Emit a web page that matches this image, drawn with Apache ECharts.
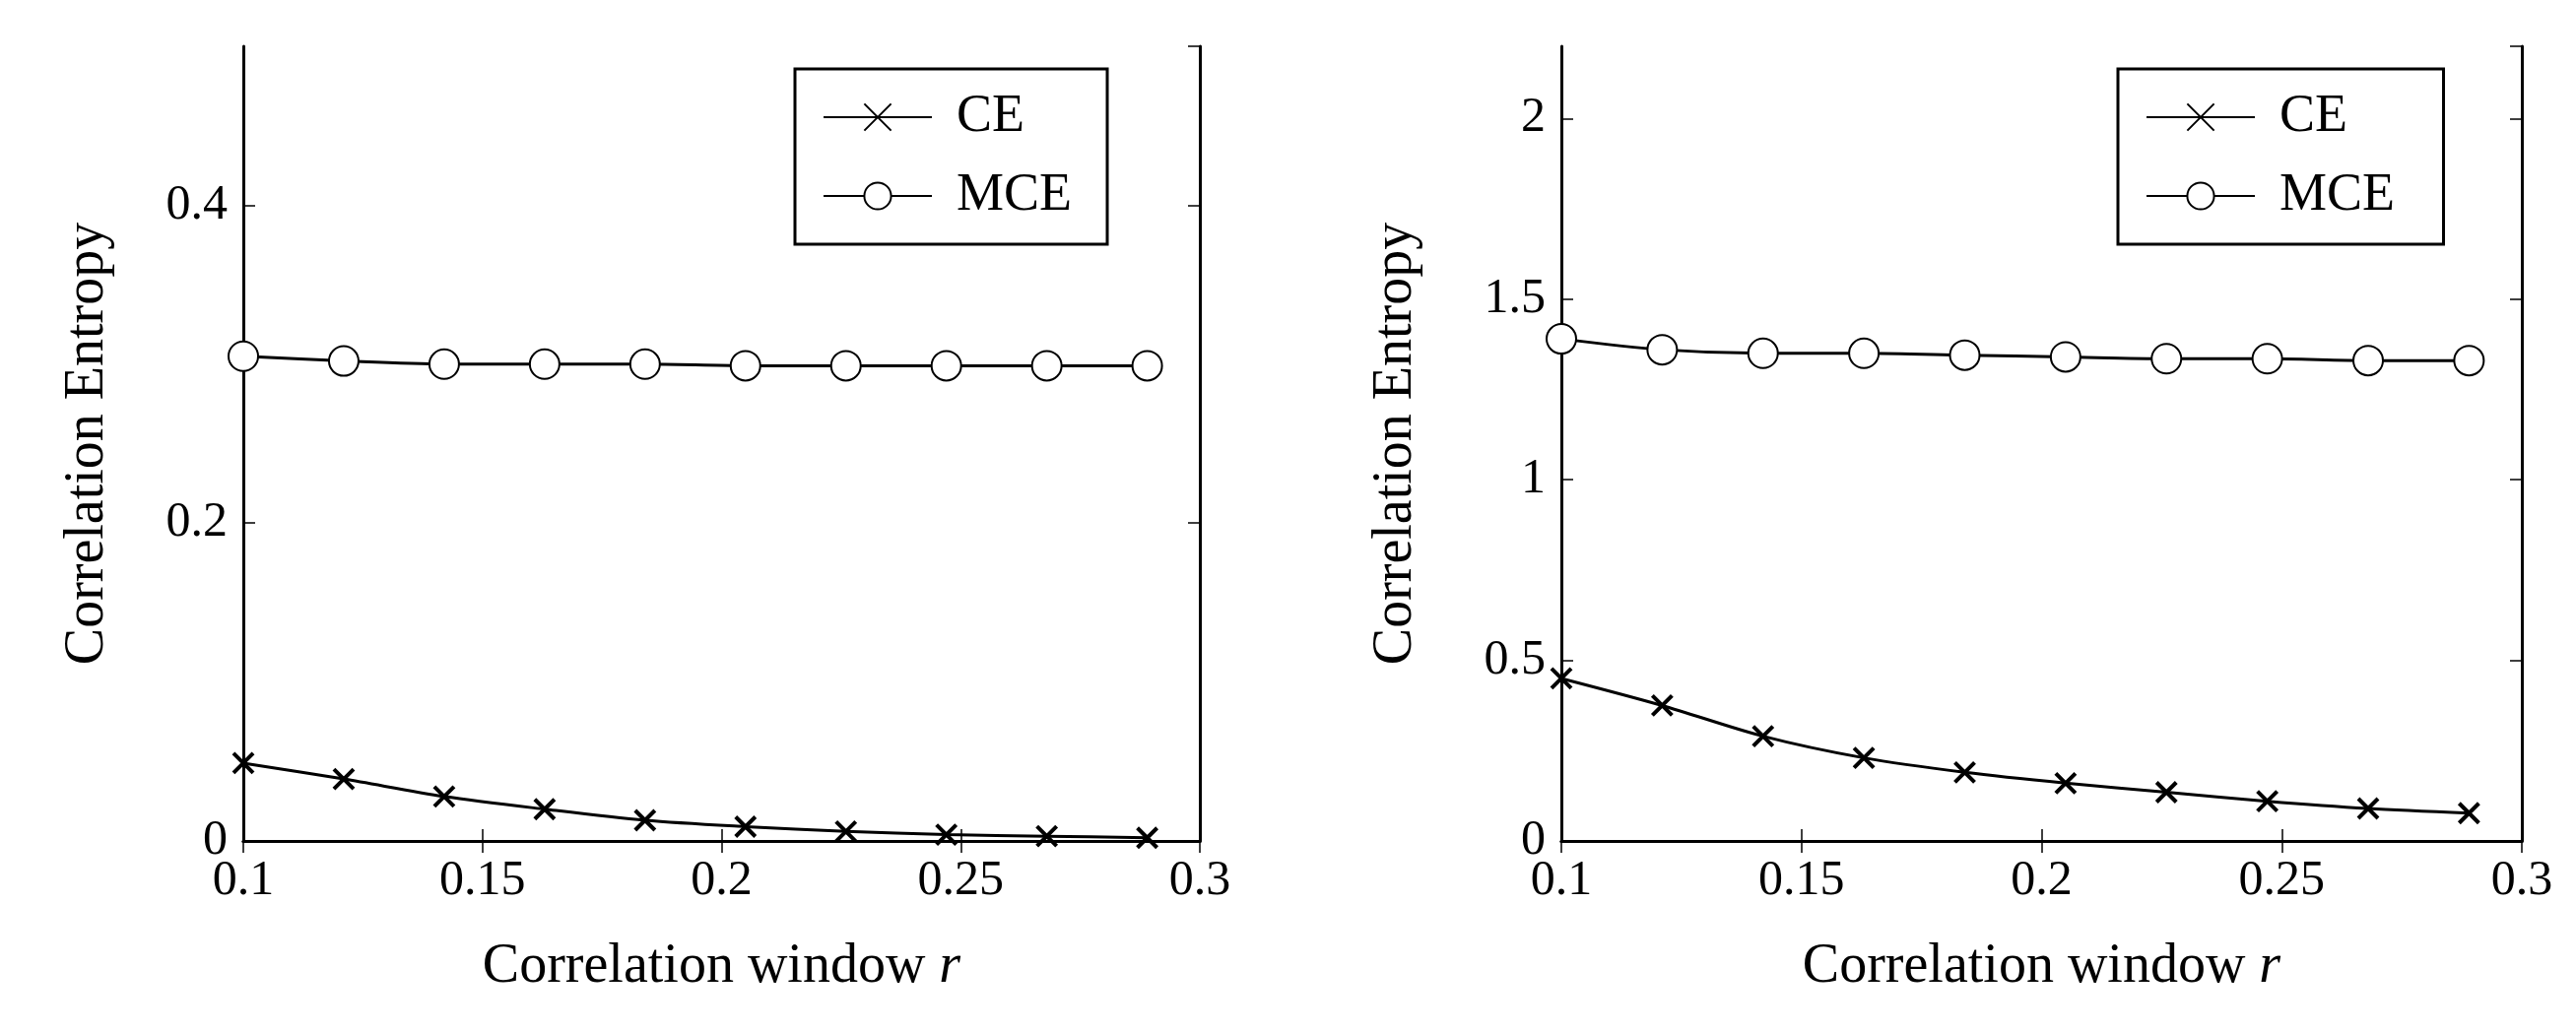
<!DOCTYPE html><html><head><meta charset="utf-8">
<script src="https://cdn.jsdelivr.net/npm/echarts@6/dist/echarts.min.js"></script>
<style>html,body{margin:0;background:#fff}#c{width:2615px;height:1048px}</style></head><body><div id="c"></div>
<script>
const xVals=[0.1,0.121,0.142,0.163,0.184,0.205,0.226,0.247,0.268,0.289];
const ceLeft=[0.049,0.039,0.028,0.020,0.013,0.009,0.006,0.004,0.003,0.002];
const mceLeft=[0.305,0.302,0.300,0.300,0.300,0.299,0.299,0.299,0.299,0.299];
const ceRight=[0.45,0.375,0.29,0.23,0.19,0.16,0.135,0.11,0.09,0.077];
const mceRight=[1.39,1.36,1.35,1.35,1.345,1.34,1.335,1.335,1.33,1.33];
const F='Liberation Serif';
const grids=[{left:247,right:2615-1218,top:47,bottom:1048-854},{left:1585,right:2615-2560,top:47,bottom:1048-854}];
const yCfg=[{max:0.5,interval:0.2,fmt:v=>v===0?'0':String(v)},{max:2.2,interval:0.5,fmt:v=>String(v)}];
const xAxis=[],yAxis=[],series=[],legend=[];
grids.forEach((g,i)=>{
  const ax={type:'value',gridIndex:i,min:0.1,max:0.3,interval:0.05,axisLine:{lineStyle:{color:'#000',width:3}},axisTick:{inside:true,length:12,lineStyle:{color:'#000',width:1.5}},splitLine:{show:false}};
  xAxis.push(Object.assign({},ax,{position:'bottom',name:'{n|Correlation window }{i|r}',nameLocation:'middle',nameGap:100,nameTextStyle:{rich:{n:{fontFamily:F,fontSize:56,color:'#000'},i:{fontFamily:F,fontSize:56,color:'#000',fontStyle:'italic'}}},axisLabel:{fontFamily:F,fontSize:50,color:'#000',margin:16,formatter:v=>String(+v.toFixed(2))}}));
  xAxis.push(Object.assign({},ax,{position:'top',axisLabel:{show:false}}));
  const ya={type:'value',gridIndex:i,min:0,max:yCfg[i].max,interval:yCfg[i].interval,axisLine:{show:true,lineStyle:{color:'#000',width:3}},axisTick:{inside:true,length:12,lineStyle:{color:'#000',width:1.5}},splitLine:{show:false}};
  yAxis.push(Object.assign({},ya,{position:'left',name:'Correlation Entropy',nameLocation:'middle',nameGap:i===0?130:140,nameTextStyle:{fontFamily:F,fontSize:56,color:'#000'},axisLabel:{fontFamily:F,fontSize:50,color:'#000',margin:16,showMaxLabel:false,formatter:yCfg[i].fmt}}));
  yAxis.push(Object.assign({},ya,{position:'right',axisLabel:{show:false}}));
  const ce=i===0?ceLeft:ceRight, mce=i===0?mceLeft:mceRight;
  const ceName='CE'+(i?' ':''), mceName='MCE'+(i?' ':'');
  series.push({name:ceName,type:'line',xAxisIndex:2*i,yAxisIndex:2*i,smooth:0.3,data:xVals.map((x,k)=>[x,ce[k]]),symbol:'path://M0,0L10,10M10,0L0,10',symbolSize:20,lineStyle:{color:'#000',width:3},itemStyle:{color:'#000',borderColor:'#000',borderWidth:4}});
  series.push({name:mceName,type:'line',xAxisIndex:2*i,yAxisIndex:2*i,smooth:0.3,data:xVals.map((x,k)=>[x,mce[k]]),symbol:'emptyCircle',symbolSize:30,lineStyle:{color:'#000',width:3},itemStyle:{color:'#000',borderColor:'#000',borderWidth:3}});
  legend.push({data:[ceName,mceName],orient:'vertical',left:i===0?807:2150,top:70,padding:[22,36,22,28],itemGap:26,itemWidth:110,itemHeight:34,borderColor:'#000',borderWidth:3,textStyle:{fontFamily:F,fontSize:54,color:'#000',padding:[0,0,0,20]}});
});
const ch=echarts.init(document.getElementById('c'));
ch.setOption({animation:false,backgroundColor:'#fff',grid:grids,xAxis,yAxis,series,legend});
</script></body></html>
